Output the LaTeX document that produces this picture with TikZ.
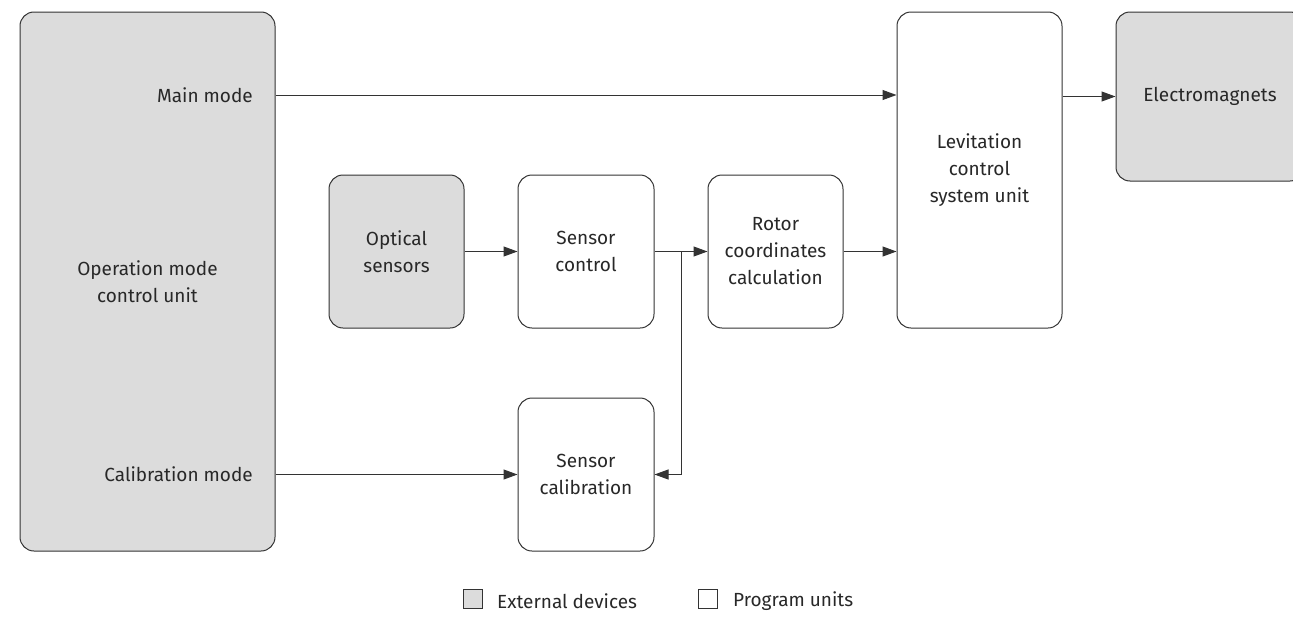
\documentclass[tikz,border=0pt]{standalone}
\usepackage{fontspec}
\setmainfont{Fira Sans}
\usetikzlibrary{arrows.meta}
\usepackage{xcolor}
\definecolor{extgray}{RGB}{220,220,220}
\definecolor{linegray}{RGB}{51,51,51}
\definecolor{textgray}{RGB}{40,40,40}

\tikzset{
  unitbox/.style={draw=linegray,line width=1pt,rounded corners=14pt,align=center,inner sep=0pt,text=textgray},
  extdev/.style={unitbox,fill=extgray},
  prog/.style={unitbox,fill=white},
  flow/.style={draw=linegray,line width=1pt,-{Triangle[length=14pt,width=10pt]}},
  legbox/.style={draw=linegray,line width=1pt,minimum size=19pt,inner sep=0pt},
  plain/.style={text=textgray,inner sep=0pt}
}

\begin{document}
\begin{tikzpicture}[x=1pt,y=-1pt,font=\fontsize{19}{27}\selectfont]
  \useasboundingbox (0,0) rectangle (1293,621);
  % units
  \node[extdev,minimum width=255pt,minimum height=539pt] (opunit) at (147.5,281.5) {Operation mode\\control unit};
  \node[plain,anchor=east] (mainmode) at (253,95) {Main mode};
  \node[plain,anchor=east] (calmode) at (253,474.5) {Calibration mode};
  \node[extdev,minimum width=135pt,minimum height=153pt] (optsens) at (396.5,251.5) {Optical\\sensors};
  \node[prog,minimum width=136pt,minimum height=153pt] (sensctrl) at (586,251.5) {Sensor\\control};
  \node[prog,minimum width=135pt,minimum height=153pt] (rotor) at (775.5,251.5) {Rotor\\coordinates\\calculation};
  \node[prog,minimum width=136pt,minimum height=153pt] (senscal) at (586,474.5) {Sensor\\calibration};
  \node[prog,minimum width=165pt,minimum height=316pt] (levit) at (979.5,170) {Levitation\\control\\system unit};
  \node[extdev,minimum width=188pt,minimum height=169pt] (electro) at (1210,96.5) {Electromagnets};
  % connectors
  \draw[flow] (opunit.east |- mainmode) -- (levit.west |- mainmode);
  \draw[flow] (levit.east |- electro) -- (electro);
  \draw[flow] (optsens) -- (sensctrl);
  \draw[flow] (sensctrl) -- (rotor);
  \draw[flow] (rotor) -- (levit.west |- rotor);
  \coordinate (split) at (681,251.5);
  \draw[flow] (split) |- (senscal.east);
  \draw[flow] (opunit.east |- senscal) -- (senscal);
  % legend
  \node[legbox,fill=extgray] (legext) at (473,599) {};
  \node[plain,anchor=west] (legexttext) at (497,601) {External devices};
  \node[legbox,fill=white] (legprog) at (708,599) {};
  \node[plain,anchor=west] (legprogtext) at (733,601) {Program units};
\end{tikzpicture}
\end{document}
